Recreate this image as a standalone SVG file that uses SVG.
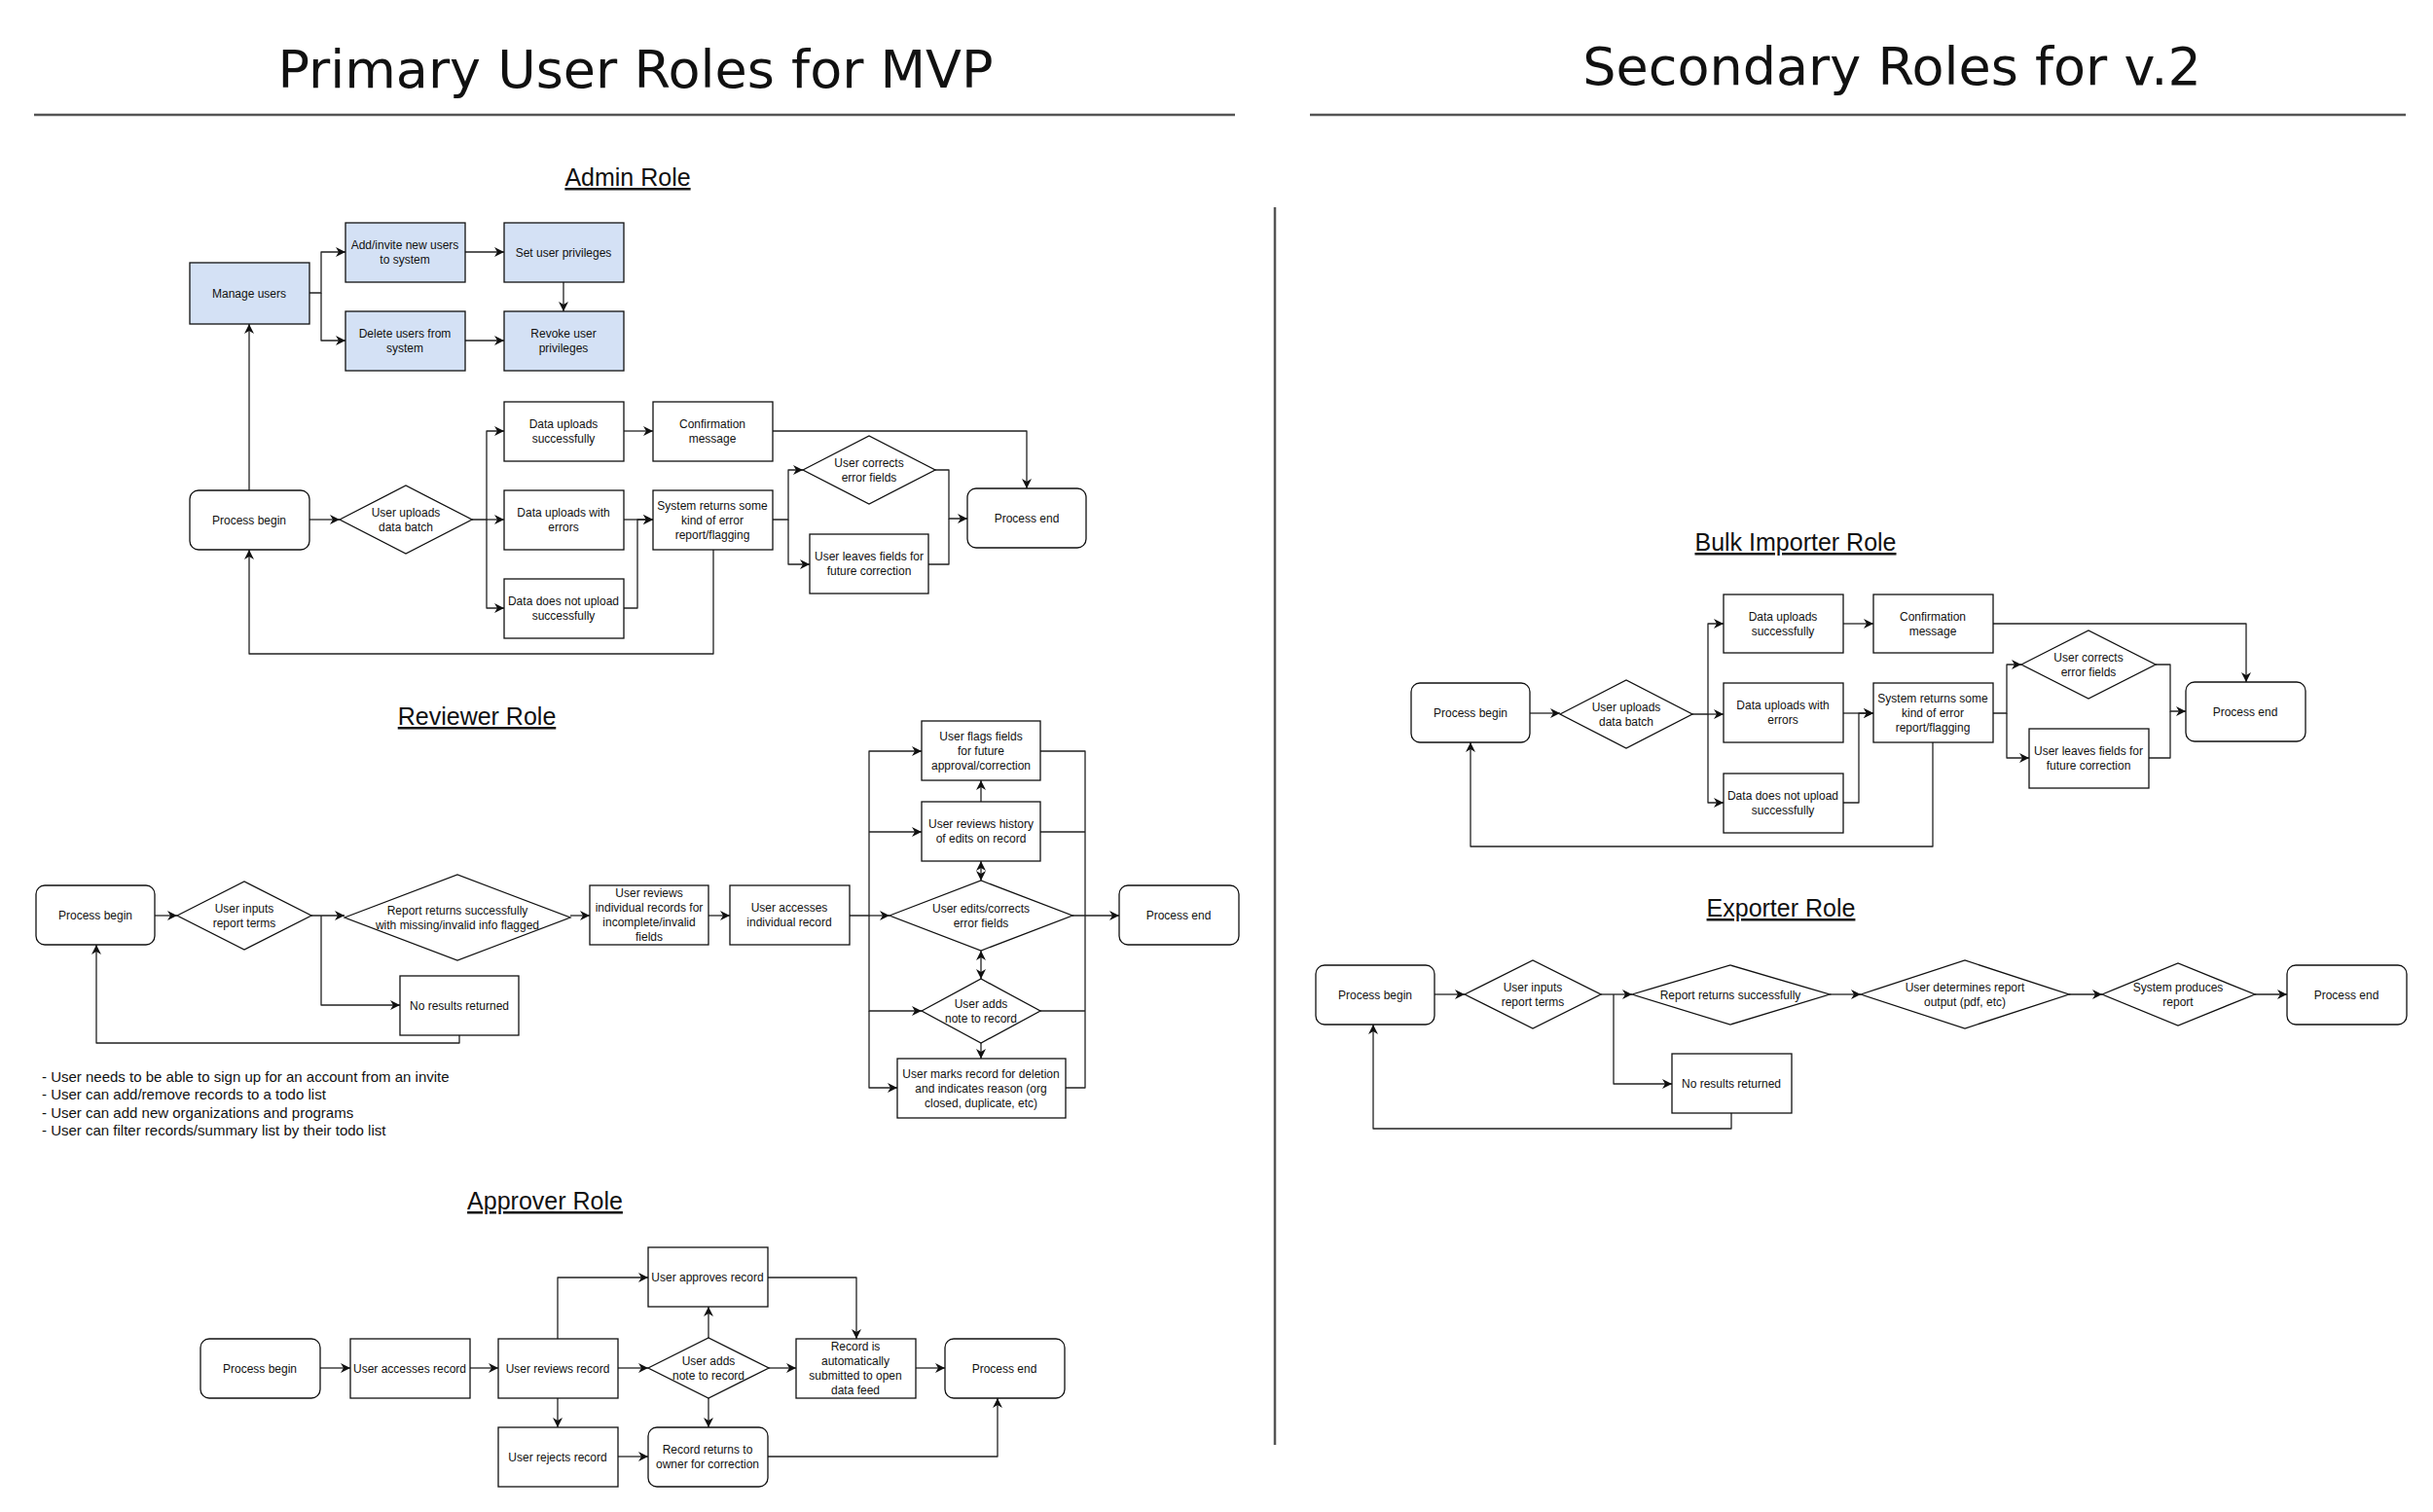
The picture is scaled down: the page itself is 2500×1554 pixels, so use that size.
<svg xmlns="http://www.w3.org/2000/svg" width="2500" height="1554" viewBox="0 0 2500 1554">
<style>
text{font-family:"Liberation Sans",Arial,sans-serif;fill:#111}
.t{font-size:12px;text-anchor:middle}
.h1{font-family:"DejaVu Sans","Liberation Sans",sans-serif;font-size:54px;text-anchor:middle}
.h2{font-size:25px;text-anchor:middle;text-decoration:underline}
.note{font-size:15px}
.n{fill:#fff;stroke:#111;stroke-width:1.3}
.b{fill:#d4e1f5;stroke:#111;stroke-width:1.3}
.c{fill:none;stroke:#222;stroke-width:1.3;stroke-linejoin:round}
.a{marker-end:url(#ar)}
.rule{stroke:#555;stroke-width:2.5}
</style>
<defs>
<marker id="ar" markerUnits="userSpaceOnUse" markerWidth="11" markerHeight="10" refX="10" refY="5" orient="auto">
<path d="M0,0 L10,5 L0,10 L3,5 z" fill="#111"/>
</marker>
<marker id="as" markerUnits="userSpaceOnUse" markerWidth="11" markerHeight="10" refX="0" refY="5" orient="auto">
<path d="M10,0 L0,5 L10,10 L7,5 z" fill="#111"/>
</marker>
</defs>
<rect width="2500" height="1554" fill="#fff"/>
<text class="h1" x="653" y="90">Primary User Roles for MVP</text>
<text class="h1" x="1944" y="87">Secondary Roles for v.2</text>
<line class="rule" x1="35" y1="118" x2="1269" y2="118"/>
<line class="rule" x1="1346" y1="118" x2="2472" y2="118"/>
<line class="rule" x1="1310" y1="213" x2="1310" y2="1485"/>
<text class="h2" x="645" y="191">Admin Role</text>
<text class="h2" x="490" y="745">Reviewer Role</text>
<text class="h2" x="560" y="1243">Approver Role</text>
<text class="h2" x="1845" y="566">Bulk Importer Role</text>
<text class="h2" x="1830" y="942">Exporter Role</text>

<g id="connectors">
<path class="c a" d="M318,301 H330 V259 H355"/>
<path class="c a" d="M330,301 V350 H355"/>
<path class="c a" d="M478,259 H518"/>
<path class="c a" d="M478,350 H518"/>
<path class="c a" d="M579,290 V320"/>
<path class="c a" d="M256,504 V333"/>
<path class="c a" d="M318,534 H349"/>
<path class="c a" d="M485,534 H500 V443 H518"/>
<path class="c a" d="M500,534 H518"/>
<path class="c a" d="M500,534 V625 H518"/>
<path class="c a" d="M641,443 H671"/>
<path class="c a" d="M794,443 H1055 V502"/>
<path class="c a" d="M641,534 H671"/>
<path class="c a" d="M641,625 H655 V534 H671"/>
<path class="c a" d="M794,534 H810 V483 H825"/>
<path class="c a" d="M810,534 V580 H832"/>
<path class="c a" d="M961,483 H975 V533 H994"/>
<path class="c" d="M954,580 H975 V533"/>
<path class="c a" d="M733,565 V672 H256 V565"/>
<path class="c a" d="M159,941 H182"/>
<path class="c a" d="M320,941 H354"/>
<path class="c a" d="M330,941 V1033 H411"/>
<path class="c a" d="M472,1064 V1072 H99 V971"/>
<path class="c a" d="M586,941 H606"/>
<path class="c a" d="M728,941 H750"/>
<path class="c a" d="M873,941 H893 V772 H947"/>
<path class="c a" d="M893,855 H947"/>
<path class="c a" d="M893,941 H914"/>
<path class="c a" d="M893,941 V1039 H947"/>
<path class="c a" d="M893,1039 V1118 H922"/>
<path class="c a" d="M1008,824 V802"/>
<path class="c a" style="marker-start:url(#as)" d="M1008,885 V905"/>
<path class="c a" style="marker-start:url(#as)" d="M1008,977 V1006"/>
<path class="c a" d="M1008,1072 V1088"/>
<path class="c" d="M1069,772 H1115 V1118 H1095"/>
<path class="c" d="M1069,855 H1115"/>
<path class="c" d="M1069,1039 H1115"/>
<path class="c a" d="M1102,941 H1150"/>
<path class="c a" d="M329,1406 H360"/>
<path class="c a" d="M483,1406 H512"/>
<path class="c a" d="M635,1406 H666"/>
<path class="c a" d="M790,1406 H818"/>
<path class="c a" d="M941,1406 H971"/>
<path class="c a" d="M573,1376 V1313 H666"/>
<path class="c a" d="M728,1375 V1343"/>
<path class="c a" d="M789,1313 H880 V1376"/>
<path class="c a" d="M573,1437 V1467"/>
<path class="c a" d="M728,1437 V1467"/>
<path class="c a" d="M635,1497 H666"/>
<path class="c a" d="M789,1497 H1025 V1437"/>
<path class="c a" d="M1572,733 H1603"/>
<path class="c a" d="M1739,734 H1755 V641 H1771"/>
<path class="c a" d="M1755,734 H1771"/>
<path class="c a" d="M1755,734 V825 H1771"/>
<path class="c a" d="M1894,641 H1925"/>
<path class="c a" d="M2048,641 H2308 V701"/>
<path class="c a" d="M1894,733 H1925"/>
<path class="c a" d="M1894,825 H1910 V733 H1925"/>
<path class="c a" d="M2048,733 H2062 V683 H2077"/>
<path class="c a" d="M2062,733 V779 H2085"/>
<path class="c a" d="M2215,683 H2230 V731 H2246"/>
<path class="c" d="M2208,779 H2230 V731"/>
<path class="c a" d="M1986,763 V870 H1511 V763"/>
<path class="c a" d="M1474,1022 H1505"/>
<path class="c a" d="M1645,1022 H1677"/>
<path class="c a" d="M1658,1022 V1114 H1718"/>
<path class="c a" d="M1880,1022 H1912"/>
<path class="c a" d="M2126,1022 H2160"/>
<path class="c a" d="M2317,1022 H2350"/>
<path class="c a" d="M1779,1144 V1160 H1411 V1053"/>
</g>

<g id="a-manage"><rect class="b" x="195" y="270" width="123" height="63"/><text class="t" x="256" y="306">Manage users</text></g>
<g id="a-add"><rect class="b" x="355" y="229" width="123" height="61"/><text class="t" x="416" y="256">Add/invite new users</text><text class="t" x="416" y="271">to system</text></g>
<g id="a-set"><rect class="b" x="518" y="229" width="123" height="61"/><text class="t" x="579" y="264">Set user privileges</text></g>
<g id="a-del"><rect class="b" x="355" y="320" width="123" height="61"/><text class="t" x="416" y="347">Delete users from</text><text class="t" x="416" y="362">system</text></g>
<g id="a-rev"><rect class="b" x="518" y="320" width="123" height="61"/><text class="t" x="579" y="347">Revoke user</text><text class="t" x="579" y="362">privileges</text></g>
<g id="a-ok"><rect class="n" x="518" y="413" width="123" height="61"/><text class="t" x="579" y="440">Data uploads</text><text class="t" x="579" y="455">successfully</text></g>
<g id="a-conf"><rect class="n" x="671" y="413" width="123" height="61"/><text class="t" x="732" y="440">Confirmation</text><text class="t" x="732" y="455">message</text></g>
<g id="a-begin"><rect class="n" x="195" y="504" width="123" height="61" rx="9"/><text class="t" x="256" y="539">Process begin</text></g>
<g id="a-upl"><polygon class="n" points="349,534 417,499 485,534 417,569"/><text class="t" x="417" y="531">User uploads</text><text class="t" x="417" y="546">data batch</text></g>
<g id="a-err"><rect class="n" x="518" y="504" width="123" height="61"/><text class="t" x="579" y="531">Data uploads with</text><text class="t" x="579" y="546">errors</text></g>
<g id="a-sys"><rect class="n" x="671" y="504" width="123" height="61"/><text class="t" x="732" y="524">System returns some</text><text class="t" x="732" y="539">kind of error</text><text class="t" x="732" y="554">report/flagging</text></g>
<g id="a-not"><rect class="n" x="518" y="595" width="123" height="61"/><text class="t" x="579" y="622">Data does not upload</text><text class="t" x="579" y="637">successfully</text></g>
<g id="a-corr"><polygon class="n" points="825,483 893,448 961,483 893,518"/><text class="t" x="893" y="480">User corrects</text><text class="t" x="893" y="495">error fields</text></g>
<g id="a-leave"><rect class="n" x="832" y="549" width="122" height="61"/><text class="t" x="893" y="576">User leaves fields for</text><text class="t" x="893" y="591">future correction</text></g>
<g id="a-end"><rect class="n" x="994" y="502" width="122" height="61" rx="9"/><text class="t" x="1055" y="537">Process end</text></g>

<g id="r-begin"><rect class="n" x="37" y="910" width="122" height="61" rx="9"/><text class="t" x="98" y="945">Process begin</text></g>
<g id="r-inp"><polygon class="n" points="182,941 251,906 320,941 251,976"/><text class="t" x="251" y="938">User inputs</text><text class="t" x="251" y="953">report terms</text></g>
<g id="r-rep"><polygon class="n" points="354,943 470,899 586,943 470,987"/><text class="t" x="470" y="940">Report returns successfully</text><text class="t" x="470" y="955">with missing/invalid info flagged</text></g>
<g id="r-revs"><rect class="n" x="606" y="910" width="122" height="61"/><text class="t" x="667" y="922">User reviews</text><text class="t" x="667" y="937">individual records for</text><text class="t" x="667" y="952">incomplete/invalid</text><text class="t" x="667" y="967">fields</text></g>
<g id="r-acc"><rect class="n" x="750" y="910" width="123" height="61"/><text class="t" x="811" y="937">User accesses</text><text class="t" x="811" y="952">individual record</text></g>
<g id="r-nores"><rect class="n" x="411" y="1003" width="122" height="61"/><text class="t" x="472" y="1038">No results returned</text></g>
<g id="r-flag"><rect class="n" x="947" y="741" width="122" height="61"/><text class="t" x="1008" y="761">User flags fields</text><text class="t" x="1008" y="776">for future</text><text class="t" x="1008" y="791">approval/correction</text></g>
<g id="r-hist"><rect class="n" x="947" y="824" width="122" height="61"/><text class="t" x="1008" y="851">User reviews history</text><text class="t" x="1008" y="866">of edits on record</text></g>
<g id="r-edit"><polygon class="n" points="914,941 1008,905 1102,941 1008,977"/><text class="t" x="1008" y="938">User edits/corrects</text><text class="t" x="1008" y="953">error fields</text></g>
<g id="r-note"><polygon class="n" points="947,1039 1008,1006 1069,1039 1008,1072"/><text class="t" x="1008" y="1036">User adds</text><text class="t" x="1008" y="1051">note to record</text></g>
<g id="r-mark"><rect class="n" x="922" y="1088" width="173" height="61"/><text class="t" x="1008" y="1108">User marks record for deletion</text><text class="t" x="1008" y="1123">and indicates reason (org</text><text class="t" x="1008" y="1138">closed, duplicate, etc)</text></g>
<g id="r-end"><rect class="n" x="1150" y="910" width="123" height="61" rx="9"/><text class="t" x="1211" y="945">Process end</text></g>
<g id="r-notes">
<text class="note" x="43" y="1112">- User needs to be able to sign up for an account from an invite</text>
<text class="note" x="43" y="1130">- User can add/remove records to a todo list</text>
<text class="note" x="43" y="1149">- User can add new organizations and programs</text>
<text class="note" x="43" y="1167">- User can filter records/summary list by their todo list</text>
</g>

<g id="p-begin"><rect class="n" x="206" y="1376" width="123" height="61" rx="9"/><text class="t" x="267" y="1411">Process begin</text></g>
<g id="p-acc"><rect class="n" x="360" y="1376" width="123" height="61"/><text class="t" x="421" y="1411">User accesses record</text></g>
<g id="p-rev"><rect class="n" x="512" y="1376" width="123" height="61"/><text class="t" x="573" y="1411">User reviews record</text></g>
<g id="p-note"><polygon class="n" points="666,1406 728,1375 790,1406 728,1437"/><text class="t" x="728" y="1403">User adds</text><text class="t" x="728" y="1418">note to record</text></g>
<g id="p-sub"><rect class="n" x="818" y="1376" width="123" height="61"/><text class="t" x="879" y="1388">Record is</text><text class="t" x="879" y="1403">automatically</text><text class="t" x="879" y="1418">submitted to open</text><text class="t" x="879" y="1433">data feed</text></g>
<g id="p-end"><rect class="n" x="971" y="1376" width="123" height="61" rx="9"/><text class="t" x="1032" y="1411">Process end</text></g>
<g id="p-app"><rect class="n" x="666" y="1282" width="123" height="61"/><text class="t" x="727" y="1317">User approves record</text></g>
<g id="p-rej"><rect class="n" x="512" y="1467" width="123" height="61"/><text class="t" x="573" y="1502">User rejects record</text></g>
<g id="p-ret"><rect class="n" x="666" y="1467" width="123" height="61" rx="9"/><text class="t" x="727" y="1494">Record returns to</text><text class="t" x="727" y="1509">owner for correction</text></g>

<g id="b-begin"><rect class="n" x="1450" y="702" width="122" height="61" rx="9"/><text class="t" x="1511" y="737">Process begin</text></g>
<g id="b-upl"><polygon class="n" points="1603,734 1671,699 1739,734 1671,769"/><text class="t" x="1671" y="731">User uploads</text><text class="t" x="1671" y="746">data batch</text></g>
<g id="b-ok"><rect class="n" x="1771" y="611" width="123" height="60"/><text class="t" x="1832" y="638">Data uploads</text><text class="t" x="1832" y="653">successfully</text></g>
<g id="b-conf"><rect class="n" x="1925" y="611" width="123" height="60"/><text class="t" x="1986" y="638">Confirmation</text><text class="t" x="1986" y="653">message</text></g>
<g id="b-err"><rect class="n" x="1771" y="702" width="123" height="61"/><text class="t" x="1832" y="729">Data uploads with</text><text class="t" x="1832" y="744">errors</text></g>
<g id="b-sys"><rect class="n" x="1925" y="702" width="123" height="61"/><text class="t" x="1986" y="722">System returns some</text><text class="t" x="1986" y="737">kind of error</text><text class="t" x="1986" y="752">report/flagging</text></g>
<g id="b-not"><rect class="n" x="1771" y="795" width="123" height="61"/><text class="t" x="1832" y="822">Data does not upload</text><text class="t" x="1832" y="837">successfully</text></g>
<g id="b-corr"><polygon class="n" points="2077,683 2146,648 2215,683 2146,718"/><text class="t" x="2146" y="680">User corrects</text><text class="t" x="2146" y="695">error fields</text></g>
<g id="b-leave"><rect class="n" x="2085" y="749" width="123" height="61"/><text class="t" x="2146" y="776">User leaves fields for</text><text class="t" x="2146" y="791">future correction</text></g>
<g id="b-end"><rect class="n" x="2246" y="701" width="123" height="61" rx="9"/><text class="t" x="2307" y="736">Process end</text></g>

<g id="e-begin"><rect class="n" x="1352" y="992" width="122" height="61" rx="9"/><text class="t" x="1413" y="1027">Process begin</text></g>
<g id="e-inp"><polygon class="n" points="1505,1022 1575,987 1645,1022 1575,1057"/><text class="t" x="1575" y="1019">User inputs</text><text class="t" x="1575" y="1034">report terms</text></g>
<g id="e-rep"><polygon class="n" points="1677,1022 1778,992 1880,1022 1778,1053"/><text class="t" x="1778" y="1027">Report returns successfully</text></g>
<g id="e-det"><polygon class="n" points="1912,1022 2019,987 2126,1022 2019,1057"/><text class="t" x="2019" y="1019">User determines report</text><text class="t" x="2019" y="1034">output (pdf, etc)</text></g>
<g id="e-prod"><polygon class="n" points="2160,1022 2238,990 2317,1022 2238,1054"/><text class="t" x="2238" y="1019">System produces</text><text class="t" x="2238" y="1034">report</text></g>
<g id="e-end"><rect class="n" x="2350" y="992" width="123" height="61" rx="9"/><text class="t" x="2411" y="1027">Process end</text></g>
<g id="e-nores"><rect class="n" x="1718" y="1083" width="123" height="61"/><text class="t" x="1779" y="1118">No results returned</text></g>
</svg>
